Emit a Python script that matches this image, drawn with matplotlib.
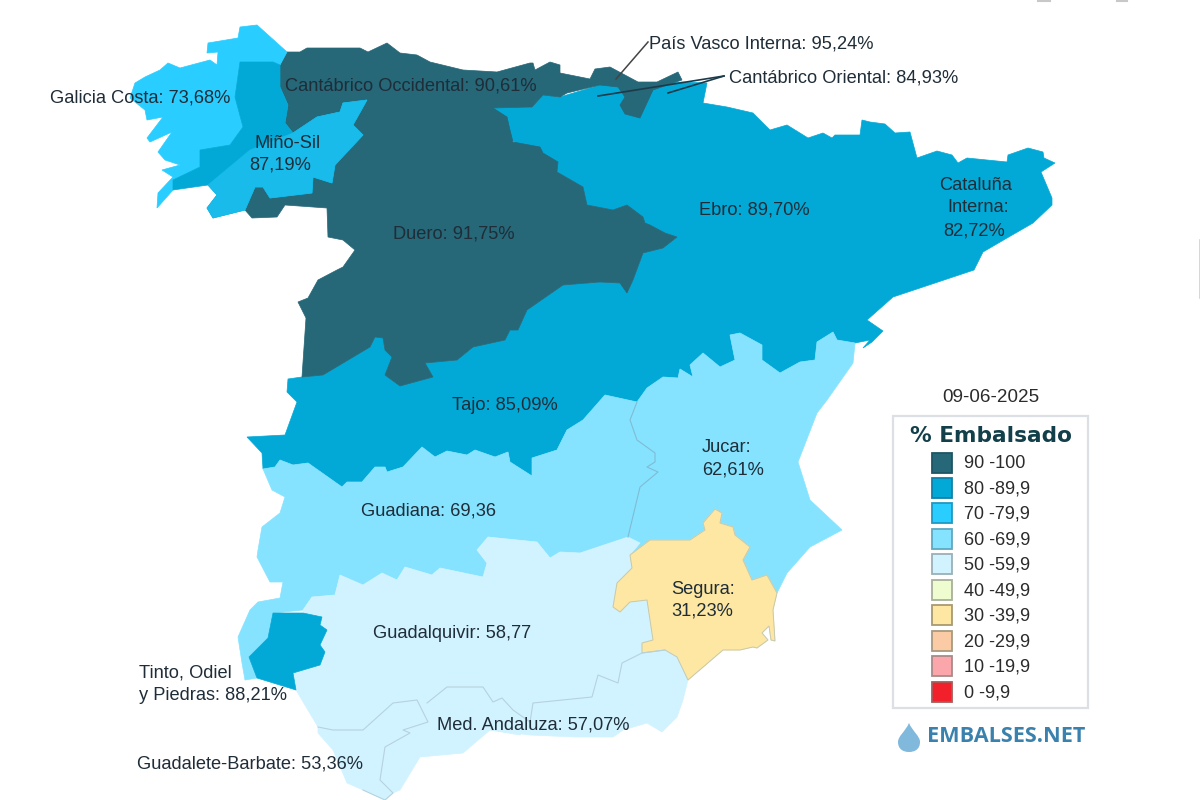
import matplotlib
matplotlib.use('Agg')
import matplotlib.pyplot as plt
from matplotlib.patches import Polygon, Rectangle, PathPatch
from matplotlib.path import Path

plt.rcParams['font.family'] = ['Liberation Sans', 'DejaVu Sans']

# reservoir level per basin, date of the reading
fecha = '09-06-2025'
cuencas = ['Ebro', 'Tajo', 'Duero', 'Cantabrico Occidental', 'Pais Vasco Interna', 'Galicia Costa', 'Mino-Sil',
           'Guadiana', 'Jucar', 'Guadalquivir', 'Segura', 'Tinto', 'Guadalete', 'Med Andaluza']
valores = [89.70, 85.09, 91.75, 90.61, 95.24, 73.68, 87.19, 69.36, 62.61, 58.77, 31.23, 88.21, 53.36, 57.07]

# legend bins, lowest first
bin_labels = ['0 -9,9', '10 -19,9', '20 -29,9', '30 -39,9', '40 -49,9', '50 -59,9', '60 -69,9', '70 -79,9', '80 -89,9', '90 -100']
bin_colors = ['#f2202a', '#fba6ab', '#fbcba5', '#fde7a2', '#eefcd0', '#d1f3ff', '#85e3ff', '#29cdff', '#03a9d6', '#266778']
bin_edges = ['#a85a5a', '#a88a8a', '#a89a80', '#a89a70', '#a8b098', '#9ab0b8', '#60a8c0', '#2098c0', '#1080a8', '#1f5564']

# basin outlines in pixels
ebro = [(493,108),(532,107),(543,95),(560,97),(600,85),(650,85),(682,82),(707,83),(703,103),(727,107),(753,113),(770,130),
        (787,125),(808,138),(823,133),(832,138),(835,135),(860,135),(862,120),(870,122),(885,124),(895,133),(910,132),(917,158),
        (937,151),(952,155),(958,163),(967,158),(1007,162),(1008,155),(1028,148),(1043,152),(1044,158),(1055,163),(1041,172),
        (1052,198),(1052,205),(1033,223),(1007,238),(983,252),(974,270),(893,297),(867,320),(883,331),(872,342),(863,348),
        (870,340),(855,343),(837,340),(833,332),(817,342),(815,360),(800,362),(780,373),(762,360),(762,345),(740,333),(730,335),
        (735,360),(720,367),(703,353),(690,365),(693,377),(680,369),(678,378),(663,377),(647,388),(637,402),(605,350),(627,293),
        (633,280),(643,253),(663,248),(677,237),(665,233),(650,225),(645,223),(643,217),(627,205),(613,210),(587,205),(583,187),
        (557,172),(558,162),(530,155),(500,130)]
tajo = [(247,437),(285,435),(297,402),(287,392),(288,379),(302,377),(323,375),(370,347),(375,337),(383,338),(385,350),(392,357),
        (385,375),(400,386),(433,377),(425,363),(457,360),(473,347),(505,340),(510,330),(518,330),(527,310),(563,285),(600,282),
        (620,283),(630,293),(660,340),(680,369),(663,377),(647,388),(637,402),(605,395),(583,420),(567,430),(557,450),(532,458),
        (532,476),(510,462),(508,452),(495,457),(475,450),(467,455),(447,451),(435,457),(422,447),(403,467),(387,472),(385,467),
        (375,467),(362,482),(347,482),(342,487),(308,463),(293,465),(280,460),(275,467),(263,469),(262,453)]
duero = [(367,100),(493,108),(507,117),(510,130),(513,142),(540,147),(543,153),(558,162),(557,172),(583,187),(587,205),(613,210),
         (627,205),(643,217),(645,223),(650,225),(665,233),(677,237),(663,248),(643,253),(633,280),(627,293),(620,283),(600,282),
         (563,285),(527,310),(518,330),(510,330),(505,340),(473,347),(457,360),(425,363),(433,377),(400,386),(385,375),(392,357),
         (385,350),(383,338),(375,337),(370,347),(323,375),(302,377),(306,318),(298,302),(308,298),(318,280),(337,270),(343,267),
         (355,250),(343,240),(328,237),(327,208),(285,205),(277,217),(252,218),(245,210),(255,187),(290,170),(340,130)]
cant_occ = [(287,52),(300,52),(307,48),(360,48),(368,52),(387,43),(400,53),(417,55),(430,62),(463,70),(497,72),(530,63),(533,63),
            (535,70),(550,62),(560,65),(560,73),(565,90),(560,97),(543,95),(532,107),(493,108),(440,115),(367,100),(343,103),
            (340,112),(317,117),(293,133),(285,123),(288,105),(280,87),(280,65)]
pais_vasco = [(560,73),(590,79),(595,69),(610,67),(638,82),(657,82),(678,72),(682,80),(653,90),(640,118),(625,114),(620,105),
              (625,97),(618,87),(600,85),(567,93),(560,97)]
galicia = [(287,52),(257,25),(240,27),(238,38),(208,43),(207,53),(218,52),(217,65),(210,60),(180,68),(168,63),(160,70),(145,77),
           (135,83),(130,98),(145,110),(147,120),(163,117),(147,138),(150,142),(172,132),(158,152),(165,160),(180,165),(162,170),
           (173,177),(158,193),(157,208),(173,190),(173,180),(200,167),(200,150),(230,145),(243,127),(235,97),(240,62),(273,62),(280,65)]
mino_sil = [(240,62),(273,62),(280,65),(280,87),(288,105),(285,123),(293,133),(317,117),(340,112),(343,103),(367,100),(353,125),
            (363,135),(335,165),(332,183),(313,177),(312,193),(270,198),(263,187),(255,187),(245,210),(213,218),(207,208),(217,195),
            (208,185),(173,190),(173,180),(200,167),(200,150),(230,145),(243,127),(235,97)]
mino_este = [(293,133),(317,117),(340,112),(343,103),(367,100),(353,125),(363,135),(335,165),(332,183),(313,177),(312,193),(270,198),
             (263,187),(255,187),(245,210),(213,218),(207,208),(217,195),(208,185),(250,150)]
guadiana = [(263,469),(275,467),(280,460),(293,465),(308,463),(342,487),(347,482),(362,482),(375,467),(385,467),(387,472),(403,467),
            (422,447),(435,457),(447,451),(467,455),(475,450),(495,457),(508,452),(510,462),(532,476),(532,458),(557,450),(567,430),
            (583,420),(605,395),(637,402),(630,420),(637,440),(655,453),(655,462),(647,467),(658,472),(640,487),(628,537),(580,553),
            (560,552),(550,558),(537,542),(488,537),(477,550),(487,563),(483,577),(440,568),(432,575),(405,567),(397,580),(382,573),
            (363,585),(340,575),(335,595),(312,597),(303,610),(273,613),(268,638),(249,657),(257,678),(245,680),(242,663),(238,637),
            (250,610),(258,602),(280,598),(283,582),(270,582),(257,557),(258,550),(262,527),(280,513),(285,497),(272,490)]
jucar = [(637,402),(647,388),(663,377),(678,378),(680,369),(693,377),(690,365),(703,353),(720,367),(735,360),(730,335),(740,333),
         (762,345),(762,360),(780,373),(800,362),(815,360),(817,342),(833,332),(837,340),(855,343),(853,363),(827,400),(817,413),
         (798,462),(810,500),(842,530),(810,547),(787,573),(777,593),(767,575),(752,580),(743,560),(750,547),(735,535),(733,527),
         (720,523),(722,513),(715,509),(703,523),(705,530),(690,540),(650,540),(630,555),(628,537),(640,487),(658,472),(647,467),
         (655,462),(655,453),(637,440),(630,420)]
guadalquivir = [(303,610),(312,597),(335,595),(340,575),(363,585),(382,573),(397,580),(405,567),(432,575),(440,568),(483,577),
                (487,563),(477,550),(488,537),(537,542),(550,558),(560,552),(580,553),(628,537),(640,543),(630,555),(632,568),
                (617,583),(613,607),(620,612),(630,602),(647,600),(653,640),(642,643),(642,653),(622,663),(618,683),(598,675),
                (592,697),(533,703),(530,722),(520,735),(490,730),(430,735),(363,730),(333,730),(318,727),(296,690),(293,673),(320,665)]
segura = [(630,555),(650,540),(690,540),(705,530),(703,523),(715,509),(722,513),(720,523),(733,527),(735,535),(750,547),(743,560),
          (752,580),(767,575),(777,593),(773,610),(775,641),(771,640),(769,626),(762,633),(768,640),(757,648),(753,647),(740,650),
          (723,650),(688,680),(677,657),(665,650),(642,653),(642,643),(653,640),(647,600),(630,602),(620,612),(613,607),(617,583),(632,568)]
tinto = [(273,613),(303,613),(322,617),(320,625),(327,630),(320,645),(325,652),(320,665),(293,673),(296,690),(257,678),(249,657),(268,638)]
guadalete = [(318,727),(333,730),(363,730),(393,703),(417,700),(428,722),(403,730),(410,733),(385,747),(380,780),(393,793),(385,800),
             (363,790),(347,783),(333,750),(318,733)]
med_andaluza = [(427,703),(447,687),(483,687),(493,702),(502,698),(513,710),(530,722),(533,703),(592,697),(598,675),(618,683),(622,663),
                (642,653),(665,650),(677,657),(688,680),(683,700),(677,717),(662,732),(647,723),(623,730),(613,737),(575,737),(530,735),
                (490,730),(463,753),(420,757),(400,790),(393,793),(380,780),(385,747),(410,733),(403,730),(428,722)]
outlines = [ebro, tajo, duero, cant_occ, pais_vasco, galicia, mino_sil, guadiana, jucar, guadalquivir, segura, tinto, guadalete, med_andaluza]

# map labels: text, left x, centre y
labels = [('Galicia Costa: 73,68%', 50, 98), ('Cantábrico Occidental: 90,61%', 285, 86),
          ('País Vasco Interna: 95,24%', 649, 44), ('Cantábrico Oriental: 84,93%', 729, 78),
          ('Miño-Sil', 254, 144), ('87,19%', 249, 165), ('Duero: 91,75%', 393, 234), ('Ebro: 89,70%', 699, 210),
          ('Cataluña', 939, 186), ('Interna:', 947, 208), ('82,72%', 943, 231), ('Tajo: 85,09%', 452, 406),
          ('Guadiana: 69,36', 361, 511), ('Jucar:', 702, 448), ('62,61%', 702, 470), ('Segura:', 671, 589),
          ('31,23%', 671, 611), ('Guadalquivir: 58,77', 373, 633), ('Med. Andaluza: 57,07%', 437, 725),
          ('Tinto, Odiel', 139, 673), ('y Piedras: 88,21%', 139, 696), ('Guadalete-Barbate: 53,36%', 137, 764)]

fig = plt.figure(figsize=(12, 8), dpi=100)
ax = fig.add_axes([0, 0, 1, 1])
ax.set_xlim(0, 1200)
ax.set_ylim(800, 0)
ax.axis('off')

for name, val, pts in zip(cuencas, valores, outlines):
    c = bin_colors[min(int(val // 10), 9)]
    ax.add_patch(Polygon(pts, closed=True, fc=c, ec=c, lw=0.5))
    if name == 'Mino-Sil':
        ax.add_patch(Polygon(mino_este, closed=True, fc='#18bbea', ec='#18bbea', lw=0.5))

# thin borders between basins of the same colour, coast left plain
for pts, col in [(jucar[-8:] + jucar[:1], '#7fbcd4'), (guadalete[:13], '#b6d2de'), (med_andaluza[:14], '#b6d2de')]:
    xs, ys = zip(*pts)
    ax.plot(xs, ys, color=col, lw=0.8)
ax.add_patch(Polygon(segura, closed=True, fill=False, ec='#c5c9b0', lw=0.7))

# leader lines
ax.plot([648, 616], [42, 79], color='#444444', lw=1.1)
ax.plot([724, 598], [76, 96], color='#1c3a4a', lw=1.2)
ax.plot([724, 668], [76, 93], color='#1c3a4a', lw=1.2)

for txt, x, y in labels:
    ax.text(x, y, txt, fontsize=13.15, color='#1f2d38', ha='left', va='center')

# legend
ax.text(991, 398, fecha, fontsize=13.6, color='#2b2b2b', ha='center', va='center')
ax.add_patch(Rectangle((893, 416), 195, 292, fc='white', ec='#dcdfe3', lw=1.6))
ax.text(991, 436, '% Embalsado', fontsize=15.6, fontweight='bold', family='DejaVu Sans', color='#123f4a', ha='center', va='center')
rows_y = [692, 666, 641, 615, 590, 564, 539, 513, 488, 463]
for lab, col, edge, y in zip(bin_labels, bin_colors, bin_edges, rows_y):
    ax.add_patch(Rectangle((932, y - 10), 20, 20, fc=col, ec=edge, lw=1.3))
    ax.text(964, y + 1, lab, fontsize=13, color='#2b2b2b', ha='left', va='center')

# logo
drop = Path([(909, 723), (905, 732), (898, 736), (898, 742), (898, 749), (903, 752), (909, 752), (915, 752), (920, 749), (920, 742),
             (920, 736), (913, 732), (909, 723)],
            [Path.MOVETO] + [Path.CURVE4] * 12)
ax.add_patch(PathPatch(drop, fc='#80b9dc', ec='none'))
ax.text(927, 737, 'EMBALSES.NET', fontsize=15.6, family='Open Sans', fontweight='bold', color='#3a82ad', ha='left', va='center')

# bits of the screenshot edge
ax.plot([1038, 1050], [0.5, 0.5], color='#c8c8c8', lw=1.5)
ax.plot([1117, 1127], [0.5, 0.5], color='#c8c8c8', lw=1.5)
ax.plot([1199.5, 1199.5], [240, 298], color='#d0d0d0', lw=1.2)

fig.savefig('out.png', dpi=100)
